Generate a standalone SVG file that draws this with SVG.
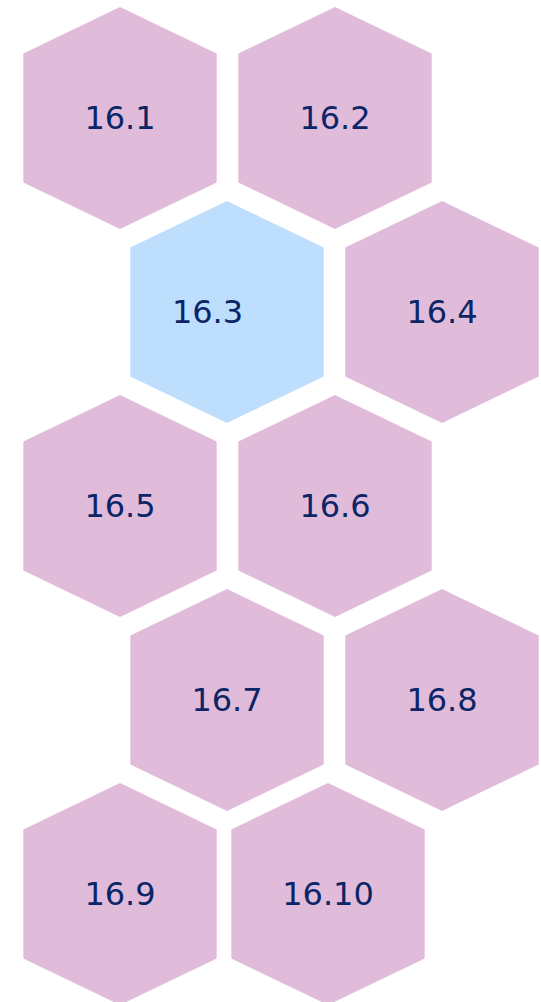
<svg xmlns="http://www.w3.org/2000/svg" width="541" height="1002" viewBox="0 0 541 1002" xmlns:xlink="http://www.w3.org/1999/xlink">
<style>
.hex{fill:#e0bcda}
.hex.sel{fill:#bddefd}
.lbl{font-family:"DejaVu Sans",Verdana,sans-serif;font-size:32px;fill:#0b2566;text-anchor:middle}
</style>
<defs>
<polygon id="h" points="0,-111 96.7,-64.5 96.7,64.5 0,111 -96.7,64.5 -96.7,-64.5"/>
</defs>
<rect width="541" height="1002" fill="#ffffff"/>
<g id="connectors"/>
<g id="n16_1"><use xlink:href="#h" class="hex" x="120" y="118"/><text class="lbl" x="120" y="129">16.1</text></g>
<g id="n16_2"><use xlink:href="#h" class="hex" x="335" y="118"/><text class="lbl" x="335" y="129">16.2</text></g>
<g id="n16_3"><use xlink:href="#h" class="hex sel" x="227" y="312"/><text class="lbl" x="207.5" y="323">16.3</text></g>
<g id="n16_4"><use xlink:href="#h" class="hex" x="442" y="312"/><text class="lbl" x="442" y="323">16.4</text></g>
<g id="n16_5"><use xlink:href="#h" class="hex" x="120" y="506"/><text class="lbl" x="120" y="517">16.5</text></g>
<g id="n16_6"><use xlink:href="#h" class="hex" x="335" y="506"/><text class="lbl" x="335" y="517">16.6</text></g>
<g id="n16_7"><use xlink:href="#h" class="hex" x="227" y="700"/><text class="lbl" x="227" y="711">16.7</text></g>
<g id="n16_8"><use xlink:href="#h" class="hex" x="442" y="700"/><text class="lbl" x="442" y="711">16.8</text></g>
<g id="n16_9"><use xlink:href="#h" class="hex" x="120" y="894"/><text class="lbl" x="120" y="905">16.9</text></g>
<g id="n16_10"><use xlink:href="#h" class="hex" x="328" y="894"/><text class="lbl" x="328" y="905">16.10</text></g>
</svg>
